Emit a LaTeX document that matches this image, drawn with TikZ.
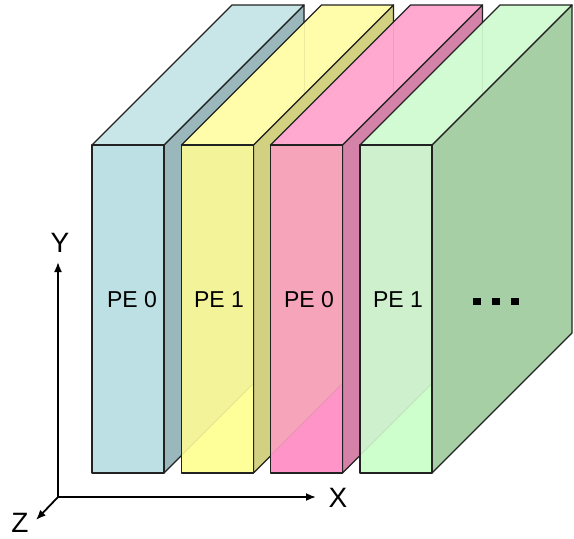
\documentclass[tikz,border=0pt]{standalone}
\usepackage{fontspec}
\setmainfont{Liberation Sans}
\usetikzlibrary{arrows.meta}
\definecolor{frontbl}{HTML}{BCE0E3}
\definecolor{tintbl}{HTML}{BCE0E3}
\definecolor{topbl}{HTML}{C8E6E8}
\definecolor{sidebl}{HTML}{9AB8BC}
\definecolor{frontye}{HTML}{FFFF99}
\definecolor{tintye}{HTML}{F3F39A}
\definecolor{topye}{HTML}{FFFCAA}
\definecolor{sideye}{HTML}{D2D182}
\definecolor{frontpk}{HTML}{FF94C8}
\definecolor{tintpk}{HTML}{F5A4BA}
\definecolor{toppk}{HTML}{FFA8D0}
\definecolor{sidepk}{HTML}{D582A8}
\definecolor{frontgr}{HTML}{CCFFCC}
\definecolor{tintgr}{HTML}{CEF0CD}
\definecolor{topgr}{HTML}{D3FBD3}
\definecolor{sidegr}{HTML}{A6CFA6}
\definecolor{edge}{HTML}{222222}
\tikzset{
  face/.style={draw=edge, line width=1.3pt, line join=round},
  faint/.style={draw=edge, line width=0.8pt, draw opacity=0.08},
  pelabel/.style={font=\fontsize{23}{25}\selectfont, inner sep=0pt},
  axislabel/.style={font=\fontsize{28}{30}\selectfont, inner sep=0pt},
  axis/.style={line width=1.8pt, -{Latex[length=10pt,width=8pt]}}
}
\begin{document}
\begin{tikzpicture}[x=1pt,y=-1pt]
\useasboundingbox (0,0) rectangle (574,539);
\foreach \x/\c in {92/bl,181.5/ye,270.5/pk,360/gr}{
  \filldraw[face, fill=side\c] (\x+72,145) -- (\x+212,5) -- (\x+212,333) -- (\x+72,473) -- cycle;
  \filldraw[face, fill=top\c] (\x,145) -- (\x+140,5) -- (\x+212,5) -- (\x+72,145) -- cycle;
  \fill[fill=front\c] (\x,145) rectangle (\x+72,473);
  \fill[fill=tint\c] (\x,145) -- (\x+72,145) -- (\x+72,383.5) -- (\x,455.5) -- cycle;
  \draw[face] (\x,145) rectangle (\x+72,473);
}
\foreach \x in {181.5,270.5,360}{
  \draw[faint] (\x+1,454.5) -- (\x+71,384.5);
  \draw[faint] (\x+122.5,6) -- (\x+122.5,94.5);
}
\node[pelabel] (pe0a) at (132,300) {PE 0};
\node[pelabel] (pe1a) at (219,300) {PE 1};
\node[pelabel] (pe0b) at (309,300) {PE 0};
\node[pelabel] (pe1b) at (398,300) {PE 1};
\node[inner sep=0pt] (dots) at (496,301.5) {\rule{7.5pt}{7.5pt}\hspace{11.7pt}\rule{7.5pt}{7.5pt}\hspace{11.7pt}\rule{7.5pt}{7.5pt}};
\coordinate (O) at (58,497);
\coordinate (Yend) at (58,262);
\coordinate (Xend) at (316,497);
\coordinate (Zend) at (36,520);
\draw[axis] (O) -- (Yend);
\draw[axis] (O) -- (Xend);
\draw[axis] (O) -- (Zend);
\node[axislabel] (ylab) at (60,243) {Y};
\node[axislabel] (xlab) at (338,498) {X};
\node[axislabel] (zlab) at (20,523) {Z};
\end{tikzpicture}
\end{document}
